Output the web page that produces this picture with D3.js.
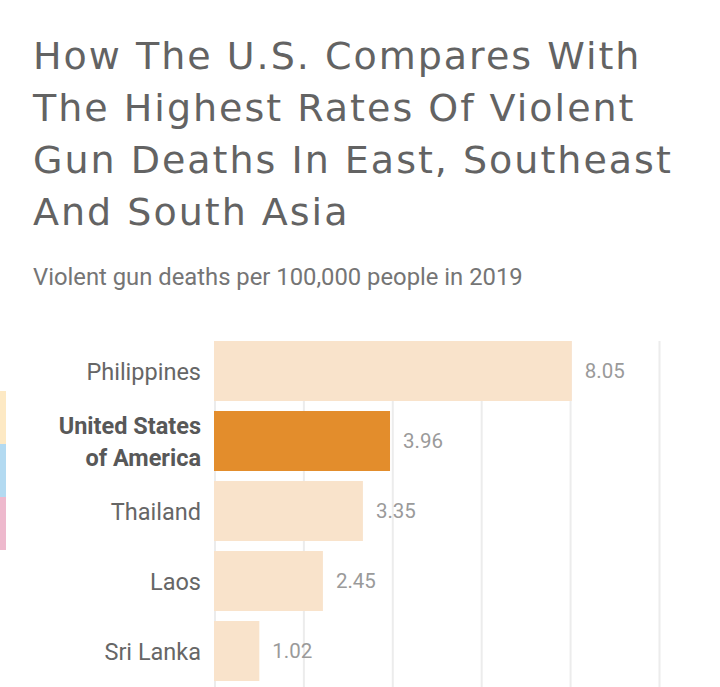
<!DOCTYPE html>
<html>
<head>
<meta charset="utf-8">
<script src="https://cdn.jsdelivr.net/npm/d3@7"></script>
<style>
  body { margin: 0; background: #fff; }
  svg { display: block; }
</style>
</head>
<body>
<svg width="720" height="687"></svg>
<script>
// data
const countries = ["Philippines", "United States of America", "Thailand", "Laos", "Sri Lanka"];
const labelLines = [["Philippines"], ["United States", "of America"], ["Thailand"], ["Laos"], ["Sri Lanka"]];
const rates = [8.05, 3.96, 3.35, 2.45, 1.02];
const highlight = "United States of America";
const titleLines = [
  "How The U.S. Compares With",
  "The Highest Rates Of Violent",
  "Gun Deaths In East, Southeast",
  "And South Asia"
];
const subtitle = "Violent gun deaths per 100,000 people in 2019";
const stripColors = ["#fde9c4", "#b3daf1", "#eeb9cd"];

const data = countries.map((c, i) => ({ name: c, lines: labelLines[i], value: rates[i] }));

const svg = d3.select("svg");

// ---- title + subtitle ----
svg.append("g")
  .selectAll("text")
  .data(titleLines)
  .enter().append("text")
    .attr("x", 33)
    .attr("y", (d, i) => 69 + i * 52)
    .style("font-family", "'DejaVu Sans', sans-serif")
    .style("font-size", "38px")
    .style("letter-spacing", "2px")
    .style("fill", "#636363")
    .text(d => d);

svg.append("text")
  .attr("x", 33)
  .attr("y", 285)
  .style("font-family", "Roboto, sans-serif")
  .style("font-size", "23.8px")
  .style("fill", "#757575")
  .text(subtitle);

// ---- scales ----
const x = d3.scaleLinear().domain([0, 10]).range([214, 658.5]);
const y = d3.scaleBand()
  .domain(countries)
  .range([336, 686])
  .paddingInner(1 / 7)
  .paddingOuter(1 / 14);

// ---- gridlines ----
svg.append("g")
  .selectAll("line")
  .data(x.ticks(5))
  .enter().append("line")
    .attr("x1", d => x(d) + 1)
    .attr("x2", d => x(d) + 1)
    .attr("y1", y.range()[0] + 5)
    .attr("y2", 687)
    .style("stroke", "#ececec")
    .style("stroke-width", 2);

// ---- bars ----
svg.append("g")
  .selectAll("rect")
  .data(data)
  .enter().append("rect")
    .attr("x", x(0))
    .attr("y", d => y(d.name))
    .attr("width", d => x(d.value) - x(0))
    .attr("height", y.bandwidth())
    .style("fill", d => d.name === highlight ? "#e38d2c" : "#f9e3cb");

// ---- value labels ----
svg.append("g")
  .selectAll("text")
  .data(data)
  .enter().append("text")
    .attr("x", d => x(d.value) + 13)
    .attr("y", d => y(d.name) + y.bandwidth() / 2 + 7)
    .style("font-family", "Roboto, sans-serif")
    .style("font-size", "20.5px")
    .style("fill", "#9a9a9a")
    .text(d => d.value.toFixed(2));

// ---- category labels ----
const labels = svg.append("g")
  .selectAll("text")
  .data(data)
  .enter().append("text")
    .attr("text-anchor", "end")
    .style("font-family", "Roboto, sans-serif")
    .style("font-size", "23.5px")
    .style("font-weight", d => d.name === highlight ? 700 : 400)
    .style("fill", d => d.name === highlight ? "#585858" : "#666");

labels.selectAll("tspan")
  .data(d => d.lines.map((l, i) => ({ l, i, n: d.lines.length, d })))
  .enter().append("tspan")
    .attr("x", 201)
    .attr("y", t => y(t.d.name) + y.bandwidth() / 2 + 8.5 + (t.i - (t.n - 1) / 2) * 32)
    .text(t => t.l);

// ---- colour strips at left edge ----
svg.append("g")
  .selectAll("rect")
  .data(stripColors)
  .enter().append("rect")
    .attr("x", 0)
    .attr("y", (d, i) => 391 + i * 53)
    .attr("width", 6)
    .attr("height", 53)
    .style("fill", d => d);
</script>
</body>
</html>
